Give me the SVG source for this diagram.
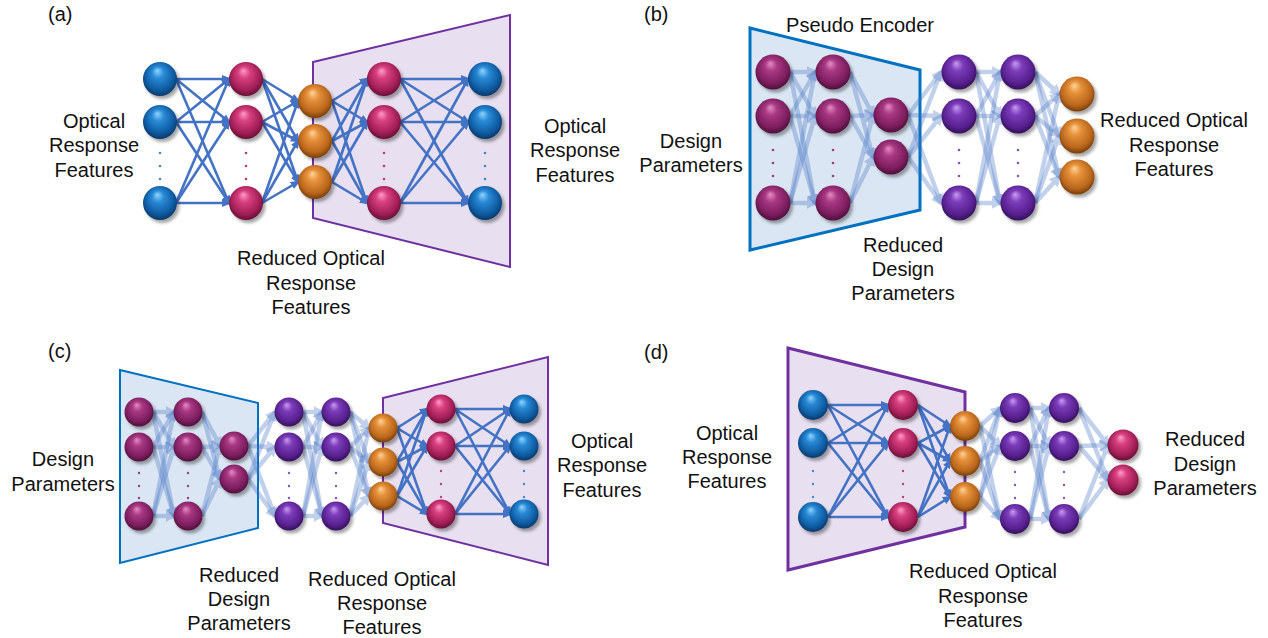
<svg xmlns="http://www.w3.org/2000/svg" width="1268" height="638" viewBox="0 0 1268 638">
<defs>
<radialGradient id="gB" cx="0.5" cy="0.45" r="0.58" fx="0.42" fy="0.25"><stop offset="0" stop-color="#8fd6ff"/><stop offset="0.3" stop-color="#2a8ad6"/><stop offset="0.75" stop-color="#0e5aa0"/><stop offset="1" stop-color="#06315c"/></radialGradient>
<radialGradient id="gP" cx="0.5" cy="0.45" r="0.58" fx="0.42" fy="0.25"><stop offset="0" stop-color="#ff9cc8"/><stop offset="0.3" stop-color="#d8407e"/><stop offset="0.75" stop-color="#a01e56"/><stop offset="1" stop-color="#5a0c2e"/></radialGradient>
<radialGradient id="gM" cx="0.5" cy="0.45" r="0.58" fx="0.42" fy="0.25"><stop offset="0" stop-color="#e68cc4"/><stop offset="0.3" stop-color="#a83882"/><stop offset="0.75" stop-color="#7c1e5e"/><stop offset="1" stop-color="#420c32"/></radialGradient>
<radialGradient id="gV" cx="0.5" cy="0.45" r="0.58" fx="0.42" fy="0.25"><stop offset="0" stop-color="#c89cf2"/><stop offset="0.3" stop-color="#7c3cba"/><stop offset="0.75" stop-color="#57208e"/><stop offset="1" stop-color="#2c0c4e"/></radialGradient>
<radialGradient id="gO" cx="0.5" cy="0.45" r="0.58" fx="0.42" fy="0.25"><stop offset="0" stop-color="#ffd39a"/><stop offset="0.3" stop-color="#e6913a"/><stop offset="0.75" stop-color="#b9661c"/><stop offset="1" stop-color="#6a3608"/></radialGradient>
<filter id="sh" x="-30%" y="-30%" width="170%" height="170%"><feDropShadow dx="2.5" dy="3" stdDeviation="1.8" flood-color="#000" flood-opacity="0.35"/></filter>
<marker id="ah" viewBox="0 0 10 8" refX="7" refY="4" markerWidth="10" markerHeight="8.5" markerUnits="userSpaceOnUse" orient="auto"><path d="M0,0L10,4L0,8z" fill="#4472c4"/></marker>
<marker id="al" viewBox="0 0 10 10" refX="7" refY="5" markerWidth="12" markerHeight="12" markerUnits="userSpaceOnUse" orient="auto"><path d="M0,0L10,5L0,10z" fill="#4472c4"/></marker>
</defs>
<style>
text{font-family:"Liberation Sans",Arial,sans-serif;font-size:20px;fill:#111}
.c{text-anchor:middle}
.s line{stroke:#4472c4;stroke-width:2.6;marker-end:url(#ah)}
.l line{stroke:#4472c4;stroke-width:4.5;opacity:0.32;marker-end:url(#al)}
.tp{fill:#e8e0f0;stroke:#7030a0}
.tb{fill:#dae6f3;stroke:#0070c0}
circle.n{filter:url(#sh)}
.nb{fill:url(#gB)}.np{fill:url(#gP)}.nm{fill:url(#gM)}.nv{fill:url(#gV)}.no{fill:url(#gO)}
.db{fill:#3a8ad0}.dp{fill:#c03a7a}.dm{fill:#a03a86}.dv{fill:#8a52c0}
</style>

<!-- trapezoids -->
<g id="trapA"><polygon class="tp" stroke-width="2" points="313,62 510,15 510,267 313,218"/></g>
<g id="trapB"><polygon class="tb" stroke-width="3" points="750,28 920,70 920,210 750,250"/></g>
<g id="trapC1"><polygon class="tb" stroke-width="2" points="120,370 258,403 258,528 120,563"/></g>
<g id="trapC2"><polygon class="tp" stroke-width="2" points="383,398 548,357 548,565 383,523"/></g>
<g id="trapD"><polygon class="tp" stroke-width="3" points="788,348 965,392 965,527 788,570"/></g>

<!-- connectors -->
<g id="connectors">
<g class="s">
<!-- (a) -->
<line x1="176" y1="79" x2="229" y2="79"/><line x1="176" y1="79" x2="229" y2="122"/><line x1="176" y1="79" x2="229" y2="203"/>
<line x1="176" y1="122" x2="229" y2="79"/><line x1="176" y1="122" x2="229" y2="122"/><line x1="176" y1="122" x2="229" y2="203"/>
<line x1="176" y1="203" x2="229" y2="79"/><line x1="176" y1="203" x2="229" y2="122"/><line x1="176" y1="203" x2="229" y2="203"/>
<line x1="262" y1="79" x2="298" y2="101"/><line x1="262" y1="79" x2="298" y2="141"/><line x1="262" y1="79" x2="298" y2="182"/>
<line x1="262" y1="122" x2="298" y2="101"/><line x1="262" y1="122" x2="298" y2="141"/><line x1="262" y1="122" x2="298" y2="182"/>
<line x1="262" y1="203" x2="298" y2="101"/><line x1="262" y1="203" x2="298" y2="141"/><line x1="262" y1="203" x2="298" y2="182"/>
<line x1="332" y1="101" x2="367" y2="79"/><line x1="332" y1="101" x2="367" y2="122"/><line x1="332" y1="101" x2="367" y2="203"/>
<line x1="332" y1="141" x2="367" y2="79"/><line x1="332" y1="141" x2="367" y2="122"/><line x1="332" y1="141" x2="367" y2="203"/>
<line x1="332" y1="182" x2="367" y2="79"/><line x1="332" y1="182" x2="367" y2="122"/><line x1="332" y1="182" x2="367" y2="203"/>
<line x1="400" y1="79" x2="468" y2="79"/><line x1="400" y1="79" x2="468" y2="122"/><line x1="400" y1="79" x2="468" y2="203"/>
<line x1="400" y1="122" x2="468" y2="79"/><line x1="400" y1="122" x2="468" y2="122"/><line x1="400" y1="122" x2="468" y2="203"/>
<line x1="400" y1="203" x2="468" y2="79"/><line x1="400" y1="203" x2="468" y2="122"/><line x1="400" y1="203" x2="468" y2="203"/>
<!-- (c) solid -->
<line x1="397" y1="428" x2="427" y2="409"/><line x1="397" y1="428" x2="427" y2="446"/><line x1="397" y1="428" x2="427" y2="514"/>
<line x1="397" y1="462" x2="427" y2="409"/><line x1="397" y1="462" x2="427" y2="446"/><line x1="397" y1="462" x2="427" y2="514"/>
<line x1="397" y1="496" x2="427" y2="409"/><line x1="397" y1="496" x2="427" y2="446"/><line x1="397" y1="496" x2="427" y2="514"/>
<line x1="455" y1="409" x2="510" y2="409"/><line x1="455" y1="409" x2="510" y2="446"/><line x1="455" y1="409" x2="510" y2="514"/>
<line x1="455" y1="446" x2="510" y2="409"/><line x1="455" y1="446" x2="510" y2="446"/><line x1="455" y1="446" x2="510" y2="514"/>
<line x1="455" y1="514" x2="510" y2="409"/><line x1="455" y1="514" x2="510" y2="446"/><line x1="455" y1="514" x2="510" y2="514"/>
<!-- (d) solid -->
<line x1="828" y1="405" x2="888" y2="405"/><line x1="828" y1="405" x2="888" y2="443"/><line x1="828" y1="405" x2="888" y2="517"/>
<line x1="828" y1="443" x2="888" y2="405"/><line x1="828" y1="443" x2="888" y2="443"/><line x1="828" y1="443" x2="888" y2="517"/>
<line x1="828" y1="517" x2="888" y2="405"/><line x1="828" y1="517" x2="888" y2="443"/><line x1="828" y1="517" x2="888" y2="517"/>
<line x1="918" y1="405" x2="950" y2="426"/><line x1="918" y1="405" x2="950" y2="461"/><line x1="918" y1="405" x2="950" y2="497"/>
<line x1="918" y1="443" x2="950" y2="426"/><line x1="918" y1="443" x2="950" y2="461"/><line x1="918" y1="443" x2="950" y2="497"/>
<line x1="918" y1="517" x2="950" y2="426"/><line x1="918" y1="517" x2="950" y2="461"/><line x1="918" y1="517" x2="950" y2="497"/>
</g>
<g class="l">
<!-- (b) -->
<line x1="790" y1="72" x2="815" y2="72"/><line x1="790" y1="72" x2="815" y2="116"/><line x1="790" y1="72" x2="815" y2="203"/>
<line x1="790" y1="116" x2="815" y2="72"/><line x1="790" y1="116" x2="815" y2="116"/><line x1="790" y1="116" x2="815" y2="203"/>
<line x1="790" y1="203" x2="815" y2="72"/><line x1="790" y1="203" x2="815" y2="116"/><line x1="790" y1="203" x2="815" y2="203"/>
<line x1="850" y1="72" x2="873" y2="115"/><line x1="850" y1="72" x2="873" y2="157"/>
<line x1="850" y1="116" x2="873" y2="115"/><line x1="850" y1="116" x2="873" y2="157"/>
<line x1="850" y1="203" x2="873" y2="115"/><line x1="850" y1="203" x2="873" y2="157"/>
<line x1="908" y1="115" x2="941" y2="72"/><line x1="908" y1="115" x2="941" y2="116"/><line x1="908" y1="115" x2="941" y2="203"/>
<line x1="908" y1="157" x2="941" y2="72"/><line x1="908" y1="157" x2="941" y2="116"/><line x1="908" y1="157" x2="941" y2="203"/>
<line x1="976" y1="72" x2="1000" y2="72"/><line x1="976" y1="72" x2="1000" y2="116"/><line x1="976" y1="72" x2="1000" y2="203"/>
<line x1="976" y1="116" x2="1000" y2="72"/><line x1="976" y1="116" x2="1000" y2="116"/><line x1="976" y1="116" x2="1000" y2="203"/>
<line x1="976" y1="203" x2="1000" y2="72"/><line x1="976" y1="203" x2="1000" y2="116"/><line x1="976" y1="203" x2="1000" y2="203"/>
<line x1="1035" y1="72" x2="1059" y2="94"/><line x1="1035" y1="72" x2="1059" y2="136"/><line x1="1035" y1="72" x2="1059" y2="177"/>
<line x1="1035" y1="116" x2="1059" y2="94"/><line x1="1035" y1="116" x2="1059" y2="136"/><line x1="1035" y1="116" x2="1059" y2="177"/>
<line x1="1035" y1="203" x2="1059" y2="94"/><line x1="1035" y1="203" x2="1059" y2="136"/><line x1="1035" y1="203" x2="1059" y2="177"/>
<!-- (c) light -->
<line x1="153" y1="412" x2="174" y2="412"/><line x1="153" y1="412" x2="174" y2="447"/><line x1="153" y1="412" x2="174" y2="516"/>
<line x1="153" y1="447" x2="174" y2="412"/><line x1="153" y1="447" x2="174" y2="447"/><line x1="153" y1="447" x2="174" y2="516"/>
<line x1="153" y1="516" x2="174" y2="412"/><line x1="153" y1="516" x2="174" y2="447"/><line x1="153" y1="516" x2="174" y2="516"/>
<line x1="202" y1="412" x2="220" y2="446"/><line x1="202" y1="412" x2="220" y2="479"/>
<line x1="202" y1="447" x2="220" y2="446"/><line x1="202" y1="447" x2="220" y2="479"/>
<line x1="202" y1="516" x2="220" y2="446"/><line x1="202" y1="516" x2="220" y2="479"/>
<line x1="248" y1="446" x2="275" y2="412"/><line x1="248" y1="446" x2="275" y2="447"/><line x1="248" y1="446" x2="275" y2="516"/>
<line x1="248" y1="479" x2="275" y2="412"/><line x1="248" y1="479" x2="275" y2="447"/><line x1="248" y1="479" x2="275" y2="516"/>
<line x1="303" y1="412" x2="322" y2="412"/><line x1="303" y1="412" x2="322" y2="447"/><line x1="303" y1="412" x2="322" y2="516"/>
<line x1="303" y1="447" x2="322" y2="412"/><line x1="303" y1="447" x2="322" y2="447"/><line x1="303" y1="447" x2="322" y2="516"/>
<line x1="303" y1="516" x2="322" y2="412"/><line x1="303" y1="516" x2="322" y2="447"/><line x1="303" y1="516" x2="322" y2="516"/>
<line x1="350" y1="412" x2="369" y2="428"/><line x1="350" y1="412" x2="369" y2="462"/><line x1="350" y1="412" x2="369" y2="496"/>
<line x1="350" y1="447" x2="369" y2="428"/><line x1="350" y1="447" x2="369" y2="462"/><line x1="350" y1="447" x2="369" y2="496"/>
<line x1="350" y1="516" x2="369" y2="428"/><line x1="350" y1="516" x2="369" y2="462"/><line x1="350" y1="516" x2="369" y2="496"/>
<!-- (d) light -->
<line x1="980" y1="426" x2="1000" y2="408"/><line x1="980" y1="426" x2="1000" y2="446"/><line x1="980" y1="426" x2="1000" y2="519"/>
<line x1="980" y1="461" x2="1000" y2="408"/><line x1="980" y1="461" x2="1000" y2="446"/><line x1="980" y1="461" x2="1000" y2="519"/>
<line x1="980" y1="497" x2="1000" y2="408"/><line x1="980" y1="497" x2="1000" y2="446"/><line x1="980" y1="497" x2="1000" y2="519"/>
<line x1="1030" y1="408" x2="1049" y2="408"/><line x1="1030" y1="408" x2="1049" y2="446"/><line x1="1030" y1="408" x2="1049" y2="519"/>
<line x1="1030" y1="446" x2="1049" y2="408"/><line x1="1030" y1="446" x2="1049" y2="446"/><line x1="1030" y1="446" x2="1049" y2="519"/>
<line x1="1030" y1="519" x2="1049" y2="408"/><line x1="1030" y1="519" x2="1049" y2="446"/><line x1="1030" y1="519" x2="1049" y2="519"/>
<line x1="1079" y1="408" x2="1108" y2="445"/><line x1="1079" y1="408" x2="1108" y2="480"/>
<line x1="1079" y1="446" x2="1108" y2="445"/><line x1="1079" y1="446" x2="1108" y2="480"/>
<line x1="1079" y1="519" x2="1108" y2="445"/><line x1="1079" y1="519" x2="1108" y2="480"/>
</g>
</g>

<!-- panel (a) nodes -->
<g id="a-in1"><circle class="n nb" cx="160" cy="79" r="17"/></g>
<g id="a-in2"><circle class="n nb" cx="160" cy="122" r="17"/></g>
<g id="a-in3"><circle class="n nb" cx="160" cy="203" r="17"/></g>
<g id="a-h1a"><circle class="n np" cx="246" cy="79" r="17"/></g>
<g id="a-h1b"><circle class="n np" cx="246" cy="122" r="17"/></g>
<g id="a-h1c"><circle class="n np" cx="246" cy="203" r="17"/></g>
<g id="a-z1"><circle class="n no" cx="315" cy="101" r="17"/></g>
<g id="a-z2"><circle class="n no" cx="315" cy="141" r="17"/></g>
<g id="a-z3"><circle class="n no" cx="315" cy="182" r="17"/></g>
<g id="a-h2a"><circle class="n np" cx="384" cy="79" r="17"/></g>
<g id="a-h2b"><circle class="n np" cx="384" cy="122" r="17"/></g>
<g id="a-h2c"><circle class="n np" cx="384" cy="203" r="17"/></g>
<g id="a-out1"><circle class="n nb" cx="485" cy="79" r="17"/></g>
<g id="a-out2"><circle class="n nb" cx="485" cy="122" r="17"/></g>
<g id="a-out3"><circle class="n nb" cx="485" cy="203" r="17"/></g>
<g id="a-dots">
<circle class="db" cx="160" cy="153" r="1.3"/><circle class="db" cx="160" cy="166" r="1.3"/><circle class="db" cx="160" cy="179" r="1.3"/>
<circle class="dp" cx="246" cy="153" r="1.3"/><circle class="dp" cx="246" cy="166" r="1.3"/><circle class="dp" cx="246" cy="179" r="1.3"/>
<circle class="dp" cx="384" cy="153" r="1.3"/><circle class="dp" cx="384" cy="166" r="1.3"/><circle class="dp" cx="384" cy="179" r="1.3"/>
<circle class="db" cx="485" cy="153" r="1.3"/><circle class="db" cx="485" cy="166" r="1.3"/><circle class="db" cx="485" cy="179" r="1.3"/>
</g>

<!-- panel (b) nodes -->
<g id="b-in1"><circle class="n nm" cx="773" cy="72" r="17.5"/></g>
<g id="b-in2"><circle class="n nm" cx="773" cy="116" r="17.5"/></g>
<g id="b-in3"><circle class="n nm" cx="773" cy="203" r="17.5"/></g>
<g id="b-h1a"><circle class="n nm" cx="833" cy="72" r="17.5"/></g>
<g id="b-h1b"><circle class="n nm" cx="833" cy="116" r="17.5"/></g>
<g id="b-h1c"><circle class="n nm" cx="833" cy="203" r="17.5"/></g>
<g id="b-z1"><circle class="n nm" cx="891" cy="115" r="17.5"/></g>
<g id="b-z2"><circle class="n nm" cx="891" cy="157" r="17.5"/></g>
<g id="b-h2a"><circle class="n nv" cx="959" cy="72" r="17.5"/></g>
<g id="b-h2b"><circle class="n nv" cx="959" cy="116" r="17.5"/></g>
<g id="b-h2c"><circle class="n nv" cx="959" cy="203" r="17.5"/></g>
<g id="b-h3a"><circle class="n nv" cx="1018" cy="72" r="17.5"/></g>
<g id="b-h3b"><circle class="n nv" cx="1018" cy="116" r="17.5"/></g>
<g id="b-h3c"><circle class="n nv" cx="1018" cy="203" r="17.5"/></g>
<g id="b-out1"><circle class="n no" cx="1077" cy="94" r="17.5"/></g>
<g id="b-out2"><circle class="n no" cx="1077" cy="136" r="17.5"/></g>
<g id="b-out3"><circle class="n no" cx="1077" cy="177" r="17.5"/></g>
<g id="b-dots">
<circle class="dm" cx="773" cy="150" r="1.3"/><circle class="dm" cx="773" cy="163" r="1.3"/><circle class="dm" cx="773" cy="176" r="1.3"/>
<circle class="dm" cx="833" cy="150" r="1.3"/><circle class="dm" cx="833" cy="163" r="1.3"/><circle class="dm" cx="833" cy="176" r="1.3"/>
<circle class="dv" cx="959" cy="150" r="1.3"/><circle class="dv" cx="959" cy="163" r="1.3"/><circle class="dv" cx="959" cy="176" r="1.3"/>
<circle class="dv" cx="1018" cy="150" r="1.3"/><circle class="dv" cx="1018" cy="163" r="1.3"/><circle class="dv" cx="1018" cy="176" r="1.3"/>
</g>

<!-- panel (c) nodes -->
<g id="c-in1"><circle class="n nm" cx="139" cy="412" r="14.5"/></g>
<g id="c-in2"><circle class="n nm" cx="139" cy="447" r="14.5"/></g>
<g id="c-in3"><circle class="n nm" cx="139" cy="516" r="14.5"/></g>
<g id="c-h1a"><circle class="n nm" cx="188" cy="412" r="14.5"/></g>
<g id="c-h1b"><circle class="n nm" cx="188" cy="447" r="14.5"/></g>
<g id="c-h1c"><circle class="n nm" cx="188" cy="516" r="14.5"/></g>
<g id="c-z1"><circle class="n nm" cx="234" cy="446" r="14.5"/></g>
<g id="c-z2"><circle class="n nm" cx="234" cy="479" r="14.5"/></g>
<g id="c-h2a"><circle class="n nv" cx="289" cy="412" r="14.5"/></g>
<g id="c-h2b"><circle class="n nv" cx="289" cy="447" r="14.5"/></g>
<g id="c-h2c"><circle class="n nv" cx="289" cy="516" r="14.5"/></g>
<g id="c-h3a"><circle class="n nv" cx="336" cy="412" r="14.5"/></g>
<g id="c-h3b"><circle class="n nv" cx="336" cy="447" r="14.5"/></g>
<g id="c-h3c"><circle class="n nv" cx="336" cy="516" r="14.5"/></g>
<g id="c-y1"><circle class="n no" cx="383" cy="428" r="14.5"/></g>
<g id="c-y2"><circle class="n no" cx="383" cy="462" r="14.5"/></g>
<g id="c-y3"><circle class="n no" cx="383" cy="496" r="14.5"/></g>
<g id="c-h4a"><circle class="n np" cx="441" cy="409" r="14.5"/></g>
<g id="c-h4b"><circle class="n np" cx="441" cy="446" r="14.5"/></g>
<g id="c-h4c"><circle class="n np" cx="441" cy="514" r="14.5"/></g>
<g id="c-out1"><circle class="n nb" cx="524" cy="409" r="14.5"/></g>
<g id="c-out2"><circle class="n nb" cx="524" cy="446" r="14.5"/></g>
<g id="c-out3"><circle class="n nb" cx="524" cy="514" r="14.5"/></g>
<g id="c-dots">
<circle class="dm" cx="139" cy="473" r="1.2"/><circle class="dm" cx="139" cy="486" r="1.2"/><circle class="dm" cx="139" cy="498" r="1.2"/>
<circle class="dm" cx="188" cy="473" r="1.2"/><circle class="dm" cx="188" cy="486" r="1.2"/><circle class="dm" cx="188" cy="498" r="1.2"/>
<circle class="dv" cx="289" cy="473" r="1.2"/><circle class="dv" cx="289" cy="486" r="1.2"/><circle class="dv" cx="289" cy="498" r="1.2"/>
<circle class="dv" cx="336" cy="473" r="1.2"/><circle class="dv" cx="336" cy="486" r="1.2"/><circle class="dv" cx="336" cy="498" r="1.2"/>
<circle class="dp" cx="441" cy="471" r="1.2"/><circle class="dp" cx="441" cy="484" r="1.2"/><circle class="dp" cx="441" cy="497" r="1.2"/>
<circle class="db" cx="524" cy="471" r="1.2"/><circle class="db" cx="524" cy="484" r="1.2"/><circle class="db" cx="524" cy="497" r="1.2"/>
</g>

<!-- panel (d) nodes -->
<g id="d-in1"><circle class="n nb" cx="813" cy="405" r="15"/></g>
<g id="d-in2"><circle class="n nb" cx="813" cy="443" r="15"/></g>
<g id="d-in3"><circle class="n nb" cx="813" cy="517" r="15"/></g>
<g id="d-h1a"><circle class="n np" cx="903" cy="405" r="15"/></g>
<g id="d-h1b"><circle class="n np" cx="903" cy="443" r="15"/></g>
<g id="d-h1c"><circle class="n np" cx="903" cy="517" r="15"/></g>
<g id="d-y1"><circle class="n no" cx="965" cy="426" r="15"/></g>
<g id="d-y2"><circle class="n no" cx="965" cy="461" r="15"/></g>
<g id="d-y3"><circle class="n no" cx="965" cy="497" r="15"/></g>
<g id="d-h2a"><circle class="n nv" cx="1015" cy="408" r="15"/></g>
<g id="d-h2b"><circle class="n nv" cx="1015" cy="446" r="15"/></g>
<g id="d-h2c"><circle class="n nv" cx="1015" cy="519" r="15"/></g>
<g id="d-h3a"><circle class="n nv" cx="1064" cy="408" r="15"/></g>
<g id="d-h3b"><circle class="n nv" cx="1064" cy="446" r="15"/></g>
<g id="d-h3c"><circle class="n nv" cx="1064" cy="519" r="15"/></g>
<g id="d-out1"><circle class="n np" cx="1123" cy="445" r="15.5"/></g>
<g id="d-out2"><circle class="n np" cx="1123" cy="480" r="15.5"/></g>
<g id="d-dots">
<circle class="db" cx="813" cy="471" r="1.2"/><circle class="db" cx="813" cy="484" r="1.2"/><circle class="db" cx="813" cy="497" r="1.2"/>
<circle class="dp" cx="903" cy="471" r="1.2"/><circle class="dp" cx="903" cy="484" r="1.2"/><circle class="dp" cx="903" cy="497" r="1.2"/>
<circle class="dv" cx="1015" cy="472" r="1.2"/><circle class="dv" cx="1015" cy="485" r="1.2"/><circle class="dv" cx="1015" cy="498" r="1.2"/>
<circle class="dv" cx="1064" cy="472" r="1.2"/><circle class="dv" cx="1064" cy="485" r="1.2"/><circle class="dv" cx="1064" cy="498" r="1.2"/>
</g>

<!-- labels -->
<g id="labels">
<text x="48" y="21">(a)</text>
<text class="c" x="94" y="128">Optical</text><text class="c" x="94" y="152">Response</text><text class="c" x="94" y="177">Features</text>
<text class="c" x="575" y="133">Optical</text><text class="c" x="575" y="157">Response</text><text class="c" x="575" y="182">Features</text>
<text class="c" x="311" y="265">Reduced Optical</text><text class="c" x="311" y="290">Response</text><text class="c" x="311" y="314">Features</text>

<text x="644" y="21">(b)</text>
<text class="c" x="860" y="32">Pseudo Encoder</text>
<text class="c" x="691" y="148">Design</text><text class="c" x="691" y="172">Parameters</text>
<text class="c" x="903" y="252">Reduced</text><text class="c" x="903" y="276">Design</text><text class="c" x="903" y="300">Parameters</text>
<text class="c" x="1174" y="127">Reduced Optical</text><text class="c" x="1174" y="152">Response</text><text class="c" x="1174" y="176">Features</text>

<text x="48" y="358">(c)</text>
<text class="c" x="63" y="466">Design</text><text class="c" x="63" y="491">Parameters</text>
<text class="c" x="239" y="582">Reduced</text><text class="c" x="239" y="606">Design</text><text class="c" x="239" y="630">Parameters</text>
<text class="c" x="382" y="586">Reduced Optical</text><text class="c" x="382" y="610">Response</text><text class="c" x="382" y="634">Features</text>
<text class="c" x="602" y="448">Optical</text><text class="c" x="602" y="472">Response</text><text class="c" x="602" y="497">Features</text>

<text x="644" y="359">(d)</text>
<text class="c" x="727" y="440">Optical</text><text class="c" x="727" y="464">Response</text><text class="c" x="727" y="488">Features</text>
<text class="c" x="983" y="578">Reduced Optical</text><text class="c" x="983" y="603">Response</text><text class="c" x="983" y="627">Features</text>
<text class="c" x="1205" y="446">Reduced</text><text class="c" x="1205" y="471">Design</text><text class="c" x="1205" y="495">Parameters</text>
</g>
</svg>
